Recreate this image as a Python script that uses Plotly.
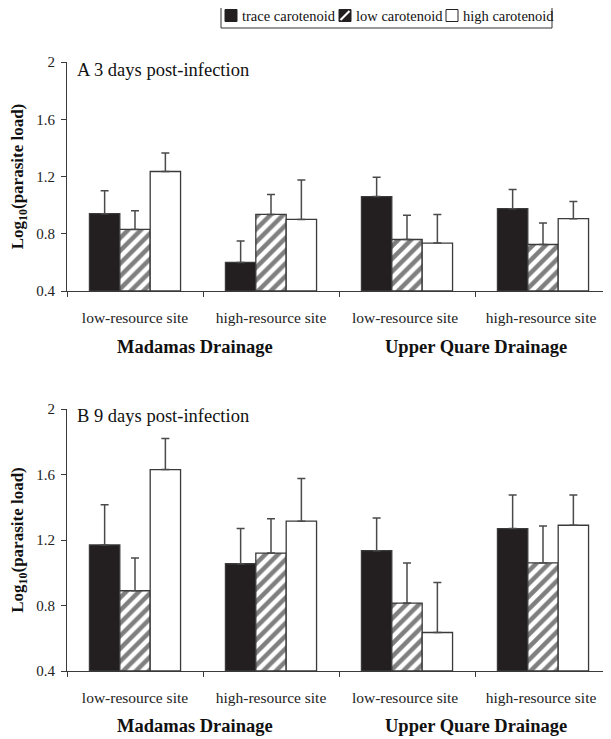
import plotly.graph_objects as go

# ---- data ----
sites = ["low-resource site", "high-resource site", "low-resource site ", "high-resource site "]
drainages = ["Madamas Drainage", "Upper Quare Drainage"]
treatments = ["trace carotenoid", "low carotenoid", "high carotenoid"]

# Panel A: 3 days post-infection (means and upper error bars)
a_trace = [0.94, 0.60, 1.06, 0.975]
a_low = [0.83, 0.935, 0.76, 0.725]
a_high = [1.235, 0.90, 0.735, 0.905]
a_trace_se = [0.16, 0.15, 0.135, 0.135]
a_low_se = [0.13, 0.14, 0.17, 0.15]
a_high_se = [0.13, 0.275, 0.20, 0.12]

# Panel B: 9 days post-infection
b_trace = [1.17, 1.055, 1.135, 1.27]
b_low = [0.89, 1.12, 0.815, 1.06]
b_high = [1.63, 1.315, 0.635, 1.29]
b_trace_se = [0.245, 0.215, 0.20, 0.205]
b_low_se = [0.20, 0.21, 0.245, 0.225]
b_high_se = [0.19, 0.26, 0.305, 0.185]

y_ticks = [0.4, 0.8, 1.2, 1.6, 2.0]
y_ticktext = ["0.4", "0.8", "1.2", "1.6", "2"]
panel_titles = ["A 3 days post-infection", "B 9 days post-infection"]

FONT = "Liberation Serif, Times New Roman, serif"
# page body adds an 8px offset; the figure covers the rest of the 611x739 window
OFF = 8
W, H = 611 - OFF, 739 - OFF
BLACK = "#231f20"
LINE = "#3a3a3a"


def px_x(p):
    return (p - OFF) / W


def px_y(p):
    return 1 - (p - OFF) / H


fig = go.Figure()

panels = [
    (a_trace, a_low, a_high, a_trace_se, a_low_se, a_high_se, "x", "y"),
    (b_trace, b_low, b_high, b_trace_se, b_low_se, b_high_se, "x2", "y2"),
]

for tr, lo, hi, tr_se, lo_se, hi_se, xa, ya in panels:
    styles = [
        dict(color=BLACK, line=dict(color=LINE, width=1.3)),
        dict(color="white", line=dict(color=LINE, width=1.3),
             pattern=dict(shape="/", size=9, solidity=0.5, fgcolor="#000", bgcolor="white")),
        dict(color="white", line=dict(color=LINE, width=1.3)),
    ]
    for name, vals, se, st in zip(treatments, [tr, lo, hi], [tr_se, lo_se, hi_se], styles):
        fig.add_trace(go.Bar(
            x=sites, y=[v - 0.4 for v in vals], base=0.4, name=name,
            marker=st, xaxis=xa, yaxis=ya, showlegend=False,
            error_y=dict(type="data", symmetric=False, array=se,
                         arrayminus=[0] * len(se), color="#4a4a4a",
                         thickness=1.5, width=4),
        ))

xaxis_common = dict(
    type="category", range=[-0.5, 3.5], domain=[px_x(67), 1.0], automargin=False,
    showline=True, linecolor=LINE, linewidth=1.2,
    ticks="outside", ticklen=5, tickcolor=LINE, tickson="boundaries",
    tickfont=dict(family=FONT, size=15.5, color="#222"),
    ticklabelstandoff=12, showgrid=False, zeroline=False,
)
yaxis_common = dict(
    range=[0.4, 2.0], tickvals=y_ticks, ticktext=y_ticktext, automargin=False,
    showline=True, linecolor=LINE, linewidth=1.2,
    ticks="outside", ticklen=5, tickcolor=LINE,
    tickfont=dict(family=FONT, size=15, color="#222"), ticklabelstandoff=3,
    showgrid=False, zeroline=False,
    title=dict(text="<b>Log<sub>10</sub>(parasite load)</b>",
               font=dict(family=FONT, size=17, color="#111"), standoff=10),
)

fig.update_layout(
    width=W, height=H,
    margin=dict(l=0, r=0, t=0, b=0, autoexpand=False),
    font=dict(family=FONT),
    paper_bgcolor="white", plot_bgcolor="white",
    barmode="group", bargap=0.33, bargroupgap=0,
    xaxis=dict(**xaxis_common, anchor="y"),
    yaxis=dict(**yaxis_common, domain=[px_y(291), px_y(62)], anchor="x"),
    xaxis2=dict(**xaxis_common, anchor="y2"),
    yaxis2=dict(**yaxis_common, domain=[px_y(671), px_y(409)], anchor="x2"),
    showlegend=False,
)

annotations = []
shapes = []
for title, ytop in zip(panel_titles, [70, 416]):
    annotations.append(dict(text=title, x=px_x(75), y=px_y(ytop), xref="paper", yref="paper",
                            xanchor="left", yanchor="middle", showarrow=False,
                            font=dict(family=FONT, size=18.5, color="#111")))
for yc in [347, 726]:
    for name, xc in zip(drainages, [195, 476]):
        annotations.append(dict(text="<b>" + name + "</b>", x=px_x(xc), y=px_y(yc),
                                xref="paper", yref="paper", xanchor="center",
                                yanchor="middle", showarrow=False,
                                font=dict(family=FONT, size=18.5, color="#111")))

# ---- legend box (drawn as shapes + text) ----
leg_box = (221, 3, 552, 28)
leg_sq = [225, 339, 446]
leg_txt = [240, 354, 461]
sq_top, sq_bot = 9.5, 21.5
shapes.append(dict(type="rect", xref="paper", yref="paper",
                   x0=px_x(leg_box[0]), x1=px_x(leg_box[2]),
                   y0=px_y(leg_box[3]), y1=px_y(leg_box[1]),
                   line=dict(color="#333", width=1), fillcolor="white", layer="below"))
fills = [BLACK, BLACK, "white"]
for i, (sx, tx, name) in enumerate(zip(leg_sq, leg_txt, treatments)):
    shapes.append(dict(type="rect", xref="paper", yref="paper",
                       x0=px_x(sx), x1=px_x(sx + 12), y0=px_y(sq_bot), y1=px_y(sq_top),
                       line=dict(color="#222", width=1), fillcolor=fills[i]))
    if i == 1:
        shapes.append(dict(type="line", xref="paper", yref="paper",
                           x0=px_x(sx + 1.5), x1=px_x(sx + 10.5),
                           y0=px_y(sq_bot - 1.5), y1=px_y(sq_top + 1.5),
                           line=dict(color="white", width=2.2)))
    annotations.append(dict(text=name, x=px_x(tx), y=px_y(16), xref="paper", yref="paper",
                            xanchor="left", yanchor="middle", showarrow=False,
                            font=dict(family=FONT, size=14.5, color="#111")))

fig.update_layout(annotations=annotations, shapes=shapes)

fig.write_html("out.html")
